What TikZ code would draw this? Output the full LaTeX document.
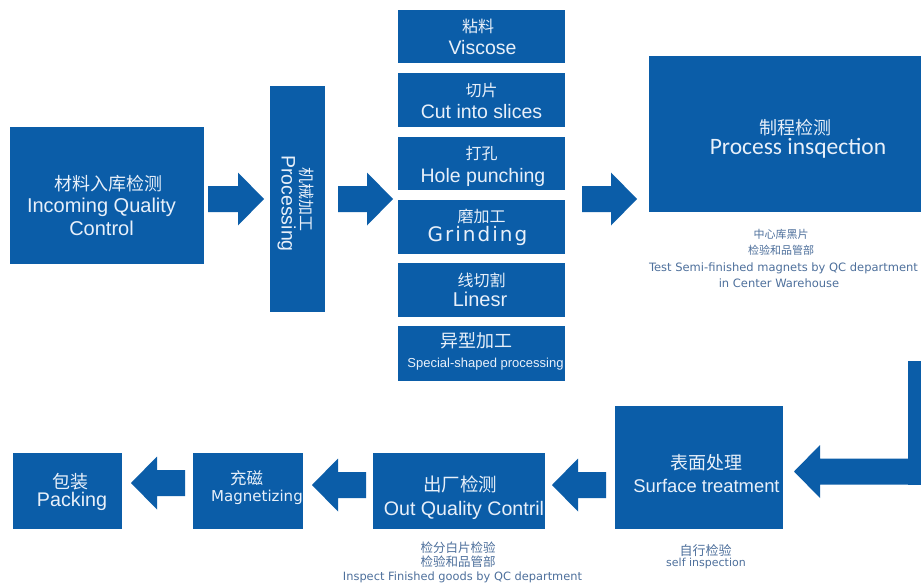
\documentclass[tikz,border=0pt]{standalone}
\usepackage{fontspec}
\setmainfont{Liberation Sans}
\newfontfamily\cjk{Noto Sans CJK SC}
\newfontfamily\calfont{Carlito}
\newfontfamily\dvs{DejaVu Sans}
\newfontfamily\dvsw{DejaVu Sans}[LetterSpace=10]
\usetikzlibrary{calc}
\definecolor{mblue}{RGB}{11,93,168}
\definecolor{txtc}{RGB}{232,240,250}
\definecolor{capc}{RGB}{78,112,156}
\newcommand\fs[1]{\fontsize{#1}{#1}\selectfont}
\newcommand\blockarrow[2]{%
 \fill[mblue] let \p1=#1, \p2=#2, \n1={(\x2>\x1)?1:-1} in
 (\x1,\y1+13pt) -- ({\x2-(\n1)*26pt},\y1+13pt) -- ({\x2-(\n1)*26pt},\y1+26.5pt)
 -- (\x2,\y1) -- ({\x2-(\n1)*26pt},\y1-26.5pt) -- ({\x2-(\n1)*26pt},\y1-13pt)
 -- (\x1,\y1-13pt) -- cycle;}
\begin{document}
\begin{tikzpicture}[x=1pt,y=-1pt,
  box/.style={fill=mblue, draw=none, inner sep=0pt, outer sep=0pt},
  wt/.style={text=txtc, inner sep=0pt, anchor=base},
  ct/.style={text=capc, inner sep=0pt, anchor=base}]
\useasboundingbox (0,0) rectangle (921,583);
\clip (0,0) rectangle (921,583);
\fill[white] (0,0) rectangle (921,583);
% boxes
\node[box, minimum width=194pt, minimum height=137pt] (iqc) at (107,195.5) {};
\node[box, minimum width=55pt, minimum height=226pt] (proc) at (297.5,199) {};
\node[box, minimum width=167pt, minimum height=53pt] (r1) at (481.5,36.5) {};
\node[box, minimum width=167pt, minimum height=54pt] (r2) at (481.5,100) {};
\node[box, minimum width=167pt, minimum height=53pt] (r3) at (481.5,163.5) {};
\node[box, minimum width=167pt, minimum height=54pt] (r4) at (481.5,227) {};
\node[box, minimum width=167pt, minimum height=54pt] (r5) at (481.5,290) {};
\node[box, minimum width=167pt, minimum height=55pt] (r6) at (481.5,353.5) {};
\node[box, minimum width=280pt, minimum height=156pt, anchor=west] (pi) at (649,134) {};
\node[box, minimum width=168pt, minimum height=123pt] (st) at (699,467.5) {};
\node[box, minimum width=172pt, minimum height=76pt] (oqc) at (459,491) {};
\node[box, minimum width=110pt, minimum height=76pt] (mag) at (248,491) {};
\node[box, minimum width=109pt, minimum height=76pt] (pack) at (67.5,491) {};
% arrows
\coordinate (a1s) at ($(iqc.east |- proc.west)+(4,0)$);
\coordinate (a1e) at ($(proc.west)+(-6,0)$);
\blockarrow{(a1s)}{(a1e)}
\coordinate (a2s) at ($(proc.east)+(13,0)$);
\coordinate (a2e) at ($(r4.west |- proc.east)+(-5,0)$);
\blockarrow{(a2s)}{(a2e)}
\coordinate (a3s) at ($(r3.east |- proc.east)+(17,0)$);
\coordinate (a3e) at ($(pi.west |- proc.east)+(-12,0)$);
\blockarrow{(a3s)}{(a3e)}
\coordinate (ltop) at (908,361);
\coordinate (lturn) at (930,471.5);
\fill[mblue] (ltop) rectangle (940,484.5);
\coordinate (a4e) at ($(st.east)+(11,4)$);
\blockarrow{(lturn)}{(a4e)}
\coordinate (a5s) at ($(st.west |- oqc.east)+(-9,-6)$);
\coordinate (a5e) at ($(oqc.east)+(7,-6)$);
\blockarrow{(a5s)}{(a5e)}
\coordinate (a6s) at ($(oqc.west)+(-7,-6)$);
\coordinate (a6e) at ($(mag.east)+(9,-6)$);
\blockarrow{(a6s)}{(a6e)}
\coordinate (a7s) at ($(mag.west)+(-8,-8)$);
\coordinate (a7e) at ($(pack.east)+(9,-8)$);
\blockarrow{(a7s)}{(a7e)}
% texts in boxes
\node[wt, font=\cjk\fs{18}] (t1) at (108,190.5) {材料入库检测};
\node[wt, font=\fs{20}] (t2) at (101.5,212) {Incoming Quality};
\node[wt, font=\fs{20}] (t3) at (101.5,235) {Control};
\node[wt, font=\fs{19.5}, rotate=-90] (t4) at (281.5,203.5) {Processing};
\node[wt, font=\cjk\fs{16}, rotate=-90] (t5) at (300,199.5) {机械加工};
\node[wt, font=\cjk\fs{16}] (t6) at (478,33) {粘料};
\node[wt, font=\fs{19.5}] (t7) at (482.5,55) {Viscose};
\node[wt, font=\cjk\fs{16}] (t8) at (481.5,96.5) {切片};
\node[wt, font=\fs{19.5}] (t9) at (481.5,118.3) {Cut into slices};
\node[wt, font=\cjk\fs{16}] (t10) at (481.5,159.5) {打孔};
\node[wt, font=\fs{19.5}] (t11) at (483,182.5) {Hole punching};
\node[wt, font=\cjk\fs{16}] (t12) at (481.5,222.5) {磨加工};
\node[wt, font=\dvsw\fs{20}] (t13) at (477.5,241.5) {Grinding};
\node[wt, font=\cjk\fs{16}] (t14) at (481.5,286.5) {线切割};
\node[wt, font=\fs{20}] (t15) at (480,306.7) {Linesr};
\node[wt, font=\cjk\fs{18}] (t16) at (476,347) {异型加工};
\node[wt, font=\fs{13}] (t17) at (485.5,367) {Special-shaped processing};
\node[wt, font=\cjk\fs{18}] (t18) at (795,134.5) {制程检测};
\node[wt, font=\calfont\fs{23.5}] (t19) at (798,155) {Process insqection};
\node[wt, font=\cjk\fs{18}] (t20) at (706,469) {表面处理};
\node[wt, font=\fs{18.4}] (t21) at (706.5,492.5) {Surface treatment};
\node[wt, font=\cjk\fs{18.5}] (t22) at (460,491.5) {出厂检测};
\node[wt, font=\fs{19.6}] (t23) at (464,515) {Out Quality Contril};
\node[wt, font=\cjk\fs{16.5}] (t24) at (246.5,484.5) {充磁};
\node[wt, font=\dvs\fs{15}] (t25) at (257,501) {Magnetizing};
\node[wt, font=\cjk\fs{18}] (t26) at (70,488) {包装};
\node[wt, font=\fs{19.7}] (t27) at (72,506.5) {Packing};
% captions
\node[ct, font=\cjk\fs{11}] (c1) at (781,238) {中心库黑片};
\node[ct, font=\cjk\fs{11}] (c2) at (781,254.5) {检验和品管部};
\node[ct, font=\dvs\fs{11.5}] (c3) at (783.5,271) {Test Semi-finished magnets by QC department};
\node[ct, font=\dvs\fs{11.5}] (c4) at (779,287) {in Center Warehouse};
\node[ct, font=\cjk\fs{13}] (c5) at (705.5,555) {自行检验};
\node[ct, font=\dvs\fs{11}] (c6) at (706,566.5) {self inspection};
\node[ct, font=\cjk\fs{12.5}] (c7) at (458,552.5) {检分白片检验};
\node[ct, font=\cjk\fs{12.5}] (c8) at (458,566) {检验和品管部};
\node[ct, font=\dvs\fs{11.4}] (c9) at (462.5,580) {Inspect Finished goods by QC department};
\end{tikzpicture}
\end{document}
